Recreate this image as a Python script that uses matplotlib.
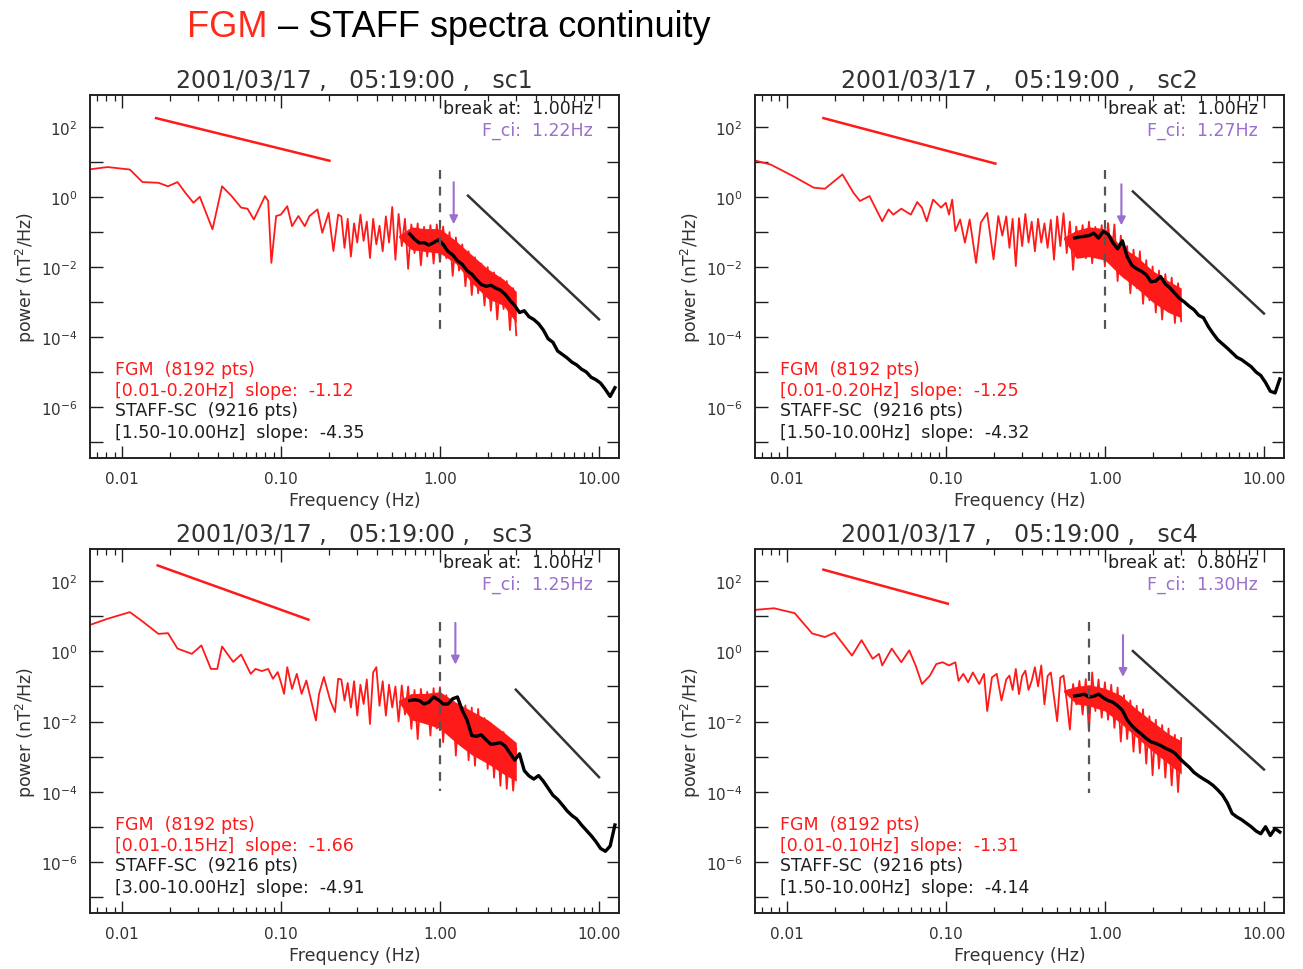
import numpy as np
import matplotlib
matplotlib.use("Agg")
import matplotlib.pyplot as plt

plt.rcParams['font.family'] = ['DejaVu Sans']

# ---- values (log10 units for frequency / power) ----
titles = ['2001/03/17 ,   05:19:00 ,   sc1', '2001/03/17 ,   05:19:00 ,   sc2',
          '2001/03/17 ,   05:19:00 ,   sc3', '2001/03/17 ,   05:19:00 ,   sc4']
break_freq = [1.00, 1.00, 1.00, 0.80]
fci_freq = [1.22, 1.27, 1.25, 1.30]
fgm_range = ['[0.01-0.20Hz]', '[0.01-0.20Hz]', '[0.01-0.15Hz]', '[0.01-0.10Hz]']
fgm_slope = [-1.12, -1.25, -1.66, -1.31]
staff_range = ['[1.50-10.00Hz]', '[1.50-10.00Hz]', '[3.00-10.00Hz]', '[1.50-10.00Hz]']
staff_slope = [-4.35, -4.32, -4.91, -4.14]

# FGM spectra, low-frequency part
sc1_low_logf = [-2.21, -2.09, -1.95, -1.87, -1.77, -1.71, -1.65, -1.60, -1.55, -1.51, -1.43, -1.37, -1.31,
                -1.25, -1.21, -1.17, -1.10, -1.08, -1.06, -1.03, -1.00, -0.96, -0.93, -0.89, -0.85, -0.82,
                -0.77, -0.74, -0.70, -0.67, -0.64]
sc1_low_logp = [0.79, 0.86, 0.79, 0.43, 0.41, 0.31, 0.43, 0.12, -0.16, 0.01, -0.92, 0.31, 0.03, -0.30,
                -0.33, -0.64, 0.03, -0.11, -1.88, -0.54, -0.50, -0.26, -0.83, -0.54, -0.83, -0.54, -0.35,
                -1.02, -0.45, -1.54, -0.50]
sc2_low_logf = [-2.21, -2.10, -1.96, -1.83, -1.76, -1.65, -1.58, -1.54, -1.48, -1.40, -1.36, -1.33, -1.28,
                -1.22, -1.18, -1.15, -1.12, -1.08, -1.03, -1.00, -0.98, -0.96, -0.94, -0.91, -0.88, -0.85,
                -0.81, -0.78, -0.74, -0.70, -0.67, -0.645]
sc2_low_logp = [1.06, 0.93, 0.60, 0.27, 0.24, 0.65, 0.12, -0.11, 0.03, -0.69, -0.35, -0.50, -0.33, -0.50,
                -0.14, -0.30, -0.69, -0.07, -0.30, -0.16, -0.50, -0.07, -0.97, -0.64, -1.30, -0.64, -1.88,
                -0.73, -0.45, -1.78, -0.54, -1.10]
sc3_low_logf = [-2.21, -2.09, -1.95, -1.88, -1.77, -1.71, -1.65, -1.56, -1.50, -1.44, -1.40, -1.37, -1.30,
                -1.25, -1.19, -1.16, -1.12, -1.08, -1.05, -1.02, -1.00, -0.98, -0.96, -0.93, -0.90, -0.87,
                -0.84, -0.81, -0.78, -0.76, -0.73, -0.69, -0.66, -0.64]
sc3_low_logp = [0.74, 0.93, 1.12, 0.89, 0.50, 0.52, 0.08, -0.07, 0.17, -0.50, -0.50, 0.14, -0.30, -0.09,
                -0.64, -0.50, -0.56, -0.50, -0.78, -0.59, -0.88, -1.21, -0.45, -1.07, -0.64, -1.21, -0.83,
                -1.40, -1.97, -1.21, -0.73, -1.40, -1.73, -0.78]
sc4_low_logf = [-2.21, -2.08, -1.95, -1.84, -1.76, -1.70, -1.59, -1.53, -1.46, -1.42, -1.40, -1.34, -1.28,
                -1.23, -1.19, -1.15, -1.10, -1.06, -1.02, -0.98, -0.94, -0.92, -0.89, -0.86, -0.83, -0.79,
                -0.76, -0.74, -0.71, -0.68, -0.65]
sc4_low_logp = [1.18, 1.23, 1.09, 0.51, 0.41, 0.53, -0.12, 0.32, -0.21, -0.07, -0.40, 0.08, -0.31, 0.03,
                -0.40, -0.93, -0.69, -0.36, -0.31, -0.40, -0.31, -0.84, -0.64, -0.88, -0.60, -0.93, -0.64,
                -1.70, -0.74, -0.64, -1.40]

# FGM spectra, dense (noisy) part, common frequency bins
dense_logf = [-0.62, -0.60, -0.58, -0.56, -0.54, -0.52, -0.50, -0.48, -0.46, -0.44, -0.42, -0.40, -0.38,
              -0.36, -0.34, -0.32, -0.30, -0.28, -0.26, -0.24, -0.22, -0.20, -0.18, -0.16, -0.14, -0.12,
              -0.10, -0.08, -0.06, -0.04, -0.02, 0.00, 0.02, 0.04, 0.06, 0.08, 0.10, 0.12, 0.14, 0.16,
              0.18, 0.20, 0.22, 0.24, 0.26, 0.28, 0.30, 0.32, 0.34, 0.36, 0.38, 0.40, 0.42, 0.44, 0.46, 0.48]
sc1_dense_logp = [-0.55, -1.45, -0.62, -1.70, -0.75, -1.30, -0.50, -1.25, -0.70, -1.74, -0.62, -1.35, -0.82,
                  -1.55, -0.55, -1.30, -0.28, -1.79, -0.48, -1.40, -0.62, -2.05, -0.78, -1.60, -0.75, -1.95,
                  -0.85, -1.70, -0.80, -1.90, -0.78, -1.85, -0.84, -1.75, -1.00, -2.25, -1.15, -2.10, -1.35,
                  -2.55, -1.55, -2.80, -1.72, -2.75, -1.90, -3.10, -2.00, -3.25, -2.15, -3.50, -2.30, -3.20,
                  -2.40, -3.80, -2.60, -3.95]
sc2_dense_logp = [-0.55, -1.45, -0.62, -1.97, -0.60, -1.40, -0.48, -1.30, -0.70, -1.55, -0.62, -1.30, -0.75,
                  -1.45, -0.65, -1.79, -0.55, -1.40, -0.46, -1.60, -0.70, -2.08, -0.84, -1.65, -0.80, -1.75,
                  -0.70, -1.89, -0.85, -1.70, -0.80, -1.98, -0.74, -1.80, -0.78, -2.40, -1.10, -2.30, -1.40,
                  -2.75, -1.50, -2.60, -1.55, -3.05, -1.80, -2.95, -1.98, -3.30, -2.10, -3.50, -2.20, -3.25,
                  -2.30, -3.60, -2.46, -3.55]
sc3_dense_logp = [-0.80, -1.40, -0.90, -1.60, -0.85, -1.83, -0.95, -1.50, -0.80, -2.07, -0.60, -0.45, -1.55,
                  -0.85, -1.83, -0.95, -1.60, -1.00, -2.00, -0.97, -1.80, -1.00, -2.21, -1.10, -2.50, -1.07,
                  -1.90, -1.15, -2.40, -1.05, -2.20, -1.02, -2.59, -1.25, -2.40, -1.35, -2.97, -1.45, -2.70,
                  -1.54, -3.10, -1.60, -3.26, -1.64, -2.90, -1.90, -3.35, -2.05, -3.60, -2.21, -3.83, -2.30,
                  -3.92, -2.50, -3.97, -2.78]
sc4_dense_logp = [-0.80, -0.69, -1.10, -0.50, -1.22, -0.70, -0.55, -1.10, -0.84, -0.45, -1.00, -0.40, -1.51,
                  -0.70, -0.60, -1.30, -1.99, -0.75, -0.69, -1.40, -2.23, -0.93, -1.51, -0.84, -1.80, -0.79,
                  -2.28, -0.60, -1.70, -0.80, -1.89, -0.88, -1.95, -0.95, -2.18, -1.03, -2.57, -1.25, -2.50,
                  -1.40, -2.86, -1.55, -2.90, -1.65, -3.20, -1.85, -3.53, -1.95, -3.34, -2.10, -3.60, -2.20,
                  -3.82, -2.38, -4.01, -2.47]

# solid core of the noisy FGM band
core_logf = [-0.26, -0.18, -0.10, 0.00, 0.10, 0.20, 0.30, 0.40, 0.48]
sc1_core_hi = [-1.10, -0.85, -0.90, -0.90, -1.25, -1.65, -2.05, -2.35, -2.70]
sc1_core_lo = [-1.15, -1.50, -1.55, -1.60, -1.90, -2.45, -2.90, -3.10, -3.60]
sc2_core_hi = [-1.15, -0.95, -0.85, -0.90, -1.40, -1.70, -2.10, -2.40, -2.60]
sc2_core_lo = [-1.20, -1.75, -1.70, -1.80, -2.25, -2.60, -3.00, -3.30, -3.45]
sc3_core_hi = [-1.40, -1.20, -1.20, -1.15, -1.45, -1.70, -1.95, -2.30, -2.60]
sc3_core_lo = [-1.45, -1.95, -2.05, -2.20, -2.60, -2.95, -3.20, -3.50, -3.70]
sc4_core_hi = [-1.10, -1.00, -0.95, -1.05, -1.25, -1.65, -2.00, -2.35, -2.55]
sc4_core_lo = [-1.15, -1.50, -1.55, -1.70, -2.05, -2.45, -2.85, -3.20, -3.50]

# STAFF-SC spectra
staff_logf = [-0.19, -0.16, -0.13, -0.10, -0.07, -0.04, -0.01, 0.02, 0.05, 0.08, 0.11, 0.14, 0.17, 0.20,
              0.23, 0.26, 0.29, 0.32, 0.35, 0.38, 0.41, 0.44, 0.47, 0.50, 0.53, 0.56, 0.59, 0.62, 0.65,
              0.68, 0.71, 0.74, 0.77, 0.80, 0.83, 0.86, 0.89, 0.92, 0.95, 0.98, 1.01, 1.04, 1.07, 1.10]
sc1_staff_logp = [-1.05, -1.20, -1.31, -1.30, -1.37, -1.30, -1.22, -1.35, -1.55, -1.65, -1.82, -1.92, -2.10,
                  -2.20, -2.36, -2.50, -2.55, -2.52, -2.60, -2.66, -2.78, -2.95, -3.10, -3.30, -3.25, -3.42,
                  -3.50, -3.62, -3.80, -4.05, -4.15, -4.40, -4.50, -4.60, -4.72, -4.80, -4.92, -5.00, -5.15,
                  -5.22, -5.32, -5.50, -5.70, -5.45]
sc2_staff_logp = [-1.17, -1.14, -1.12, -1.10, -1.03, -1.17, -0.98, -1.06, -1.30, -1.48, -1.25, -1.70, -1.95,
                  -2.05, -2.12, -2.22, -2.42, -2.40, -2.27, -2.48, -2.60, -2.75, -2.90, -3.00, -3.12, -3.22,
                  -3.38, -3.45, -3.70, -3.90, -4.08, -4.20, -4.32, -4.45, -4.58, -4.65, -4.75, -4.85, -5.00,
                  -5.10, -5.30, -5.55, -5.60, -5.20]
sc3_staff_logp = [-1.40, -1.38, -1.40, -1.50, -1.45, -1.30, -1.38, -1.50, -1.50, -1.35, -1.30, -1.68, -1.95,
                  -2.40, -2.42, -2.38, -2.52, -2.65, -2.63, -2.60, -2.70, -2.90, -3.10, -2.92, -3.40, -3.55,
                  -3.64, -3.54, -3.70, -3.90, -4.10, -4.22, -4.38, -4.55, -4.68, -4.78, -4.95, -5.10, -5.25,
                  -5.42, -5.62, -5.70, -5.55, -4.95]
sc4_staff_logp = [-1.27, -1.25, -1.22, -1.30, -1.28, -1.22, -1.32, -1.40, -1.45, -1.55, -1.68, -1.95, -2.12,
                  -2.25, -2.36, -2.48, -2.58, -2.62, -2.68, -2.76, -2.82, -2.90, -3.05, -3.18, -3.30, -3.45,
                  -3.55, -3.64, -3.72, -3.82, -3.95, -4.10, -4.32, -4.62, -4.72, -4.80, -4.90, -5.00, -5.12,
                  -5.20, -5.00, -5.25, -5.05, -5.15]

# power-law fit lines (end points: frequency in Hz, power in nT^2/Hz)
fgm_fit_f = [[0.0164, 0.202], [0.017, 0.205], [0.0168, 0.149], [0.017, 0.103]]
fgm_fit_p = [[182, 11.0], [182, 9.1], [282, 8.05], [214, 22.9]]
staff_fit_f = [[1.5, 10.0], [1.5, 10.0], [3.0, 10.0], [1.5, 10.0]]
staff_fit_p = [[1.10, 3.2e-4], [1.45, 4.7e-4], [0.081, 2.6e-4], [1.02, 4.3e-4]]

# vertical extent of the break marker and F_ci arrow (power)
break_span = [[6.0, 1.05e-4], [6.0, 1.05e-4], [6.9, 1.07e-4], [6.8, 8.9e-5]]
fci_span = [[3.2, 0.14], [2.8, 0.13], [7.8, 0.35], [3.5, 0.155]]

low_logf = [sc1_low_logf, sc2_low_logf, sc3_low_logf, sc4_low_logf]
low_logp = [sc1_low_logp, sc2_low_logp, sc3_low_logp, sc4_low_logp]
dense_logp = [sc1_dense_logp, sc2_dense_logp, sc3_dense_logp, sc4_dense_logp]
core_hi = [sc1_core_hi, sc2_core_hi, sc3_core_hi, sc4_core_hi]
core_lo = [sc1_core_lo, sc2_core_lo, sc3_core_lo, sc4_core_lo]
staff_logp = [sc1_staff_logp, sc2_staff_logp, sc3_staff_logp, sc4_staff_logp]

RED = '#ff1a1a'
PURPLE = '#9a6fd0'
INK = '#1e1e1e'
GREY = '#333333'

fig = plt.figure(figsize=(13.03, 9.70), dpi=100)
boxes = [[0.0691, 0.5268, 0.406, 0.3742], [0.5794, 0.5268, 0.406, 0.3742],
         [0.0691, 0.0577, 0.406, 0.3753], [0.5794, 0.0577, 0.406, 0.3753]]

ydec = [1e-7, 1e-6, 1e-5, 1e-4, 1e-3, 1e-2, 1e-1, 1e0, 1e1, 1e2]
ylab = ['', r'$10^{-6}$', '', r'$10^{-4}$', '', r'$10^{-2}$', '', r'$10^{0}$', '', r'$10^{2}$']

for i in range(4):
    ax = fig.add_axes(boxes[i])
    ax.set_xscale('log')
    ax.set_yscale('log')

    lf = 10 ** np.array(low_logf[i] + dense_logf)
    lp = 10 ** np.array(low_logp[i] + dense_logp[i])
    ax.fill_between(10 ** np.array(core_logf), 10 ** np.array(core_lo[i]), 10 ** np.array(core_hi[i]),
                    color=RED, lw=0)
    ax.plot(lf, lp, color=RED, lw=1.3)
    ax.plot(10 ** np.array(staff_logf), 10 ** np.array(staff_logp[i]), color='black', lw=2.4)

    ax.plot(fgm_fit_f[i], fgm_fit_p[i], color=RED, lw=1.8)
    ax.plot(staff_fit_f[i], staff_fit_p[i], color=GREY, lw=1.8)

    ax.plot([break_freq[i], break_freq[i]], break_span[i], color='#555555', lw=1.6,
            linestyle=(0, (4, 3.5)))
    ax.annotate('', xy=(fci_freq[i], fci_span[i][1]), xytext=(fci_freq[i], fci_span[i][0]),
                arrowprops=dict(arrowstyle='-|>', color=PURPLE, lw=1.5, mutation_scale=12))

    ax.set_xlim(10 ** -2.20, 10 ** 1.126)
    ax.set_ylim(10 ** -7.46, 10 ** 2.92)
    ax.set_xticks([0.01, 0.1, 1, 10], ['0.01', '0.10', '1.00', '10.00'])
    ax.set_yticks(ydec, ylab)
    ax.set_yticks([], minor=True)
    ax.tick_params(which='both', direction='in', top=True, right=True, colors=INK,
                   labelsize=11, labelcolor=GREY)
    ax.tick_params(which='major', length=9, width=1.0, pad=9)
    ax.tick_params(which='minor', length=4.5, width=0.9)
    for sp in ax.spines.values():
        sp.set_linewidth(1.4)
        sp.set_color('#222222')

    ax.set_title(titles[i], fontsize=17, color=GREY, pad=6)
    ax.set_xlabel('Frequency (Hz)', fontsize=12.5, color=GREY)
    ax.set_ylabel('power (nT$^2$/Hz)', fontsize=12.5, color=GREY)
    ax.xaxis.set_label_coords(0.5, -0.09)
    ax.yaxis.set_label_coords(-0.098, 0.5)

    ax.text(0.95, 0.964, 'break at:  %.2fHz' % break_freq[i], transform=ax.transAxes,
            ha='right', va='center', fontsize=12.5, color=INK)
    ax.text(0.95, 0.904, 'F_ci:  %.2fHz' % fci_freq[i], transform=ax.transAxes,
            ha='right', va='center', fontsize=12.5, color=PURPLE)
    ax.text(0.047, 0.245, 'FGM  (8192 pts)', transform=ax.transAxes, va='center',
            fontsize=12.5, color=RED)
    ax.text(0.047, 0.187, '%s  slope:  %.2f' % (fgm_range[i], fgm_slope[i]), transform=ax.transAxes,
            va='center', fontsize=12.5, color=RED)
    ax.text(0.047, 0.132, 'STAFF-SC  (9216 pts)', transform=ax.transAxes, va='center',
            fontsize=12.5, color=INK)
    ax.text(0.047, 0.072, '%s  slope:  %.2f' % (staff_range[i], staff_slope[i]), transform=ax.transAxes,
            va='center', fontsize=12.5, color=INK)

# main title in two colours
t1 = fig.text(187 / 1303, 0.962, 'FGM', color='#ff2a1a', fontsize=26,
              family=['Liberation Sans', 'DejaVu Sans'], va='baseline')
fig.canvas.draw()
bb = t1.get_window_extent()
fig.text(bb.x1 / fig.bbox.width, 0.962, ' \u2013 STAFF spectra continuity', color='black', fontsize=26,
         family=['Liberation Sans', 'DejaVu Sans'], va='baseline')

fig.savefig('out.png', dpi=100)
